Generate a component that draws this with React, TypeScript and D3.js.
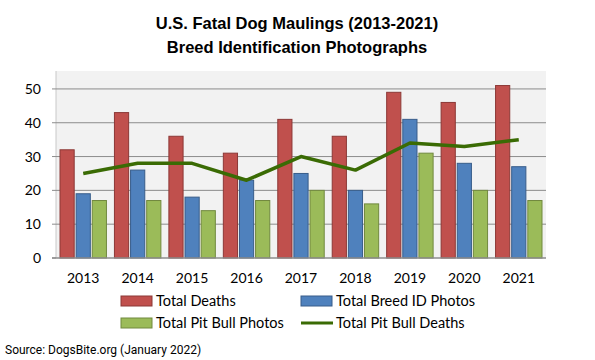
import React from "react";
import * as d3 from "d3";

const years = ["2013", "2014", "2015", "2016", "2017", "2018", "2019", "2020", "2021"];
const totalDeaths = [32, 43, 36, 31, 41, 36, 49, 46, 51];
const breedIdPhotos = [19, 26, 18, 23, 25, 20, 41, 28, 27];
const pitBullPhotos = [17, 17, 14, 17, 20, 16, 31, 20, 17];
const pitBullDeaths = [25, 28, 28, 23, 30, 26, 34, 33, 35];
const yTicks = [0, 10, 20, 30, 40, 50];

const W = 595, H = 360;
const plot = { left: 56, right: 546, top: 71, bottom: 258 };

export default function App() {
  const x = d3.scaleBand<string>().domain(years).range([plot.left, plot.right]).paddingInner(0).paddingOuter(0);
  const y = d3.scaleLinear().domain([0, 55.3]).range([plot.bottom, plot.top]);
  const series = [
    { name: "Total Deaths", values: totalDeaths, fill: "#C0504D", stroke: "#8C3836" },
    { name: "Total Breed ID Photos", values: breedIdPhotos, fill: "#4F81BD", stroke: "#385D8A" },
    { name: "Total Pit Bull Photos", values: pitBullPhotos, fill: "#9BBB59", stroke: "#71893F" },
  ];
  const inner = d3.scaleBand<number>().domain([0, 1, 2]).range([4, x.bandwidth() - 4]).paddingInner(0.12);
  const line = d3.line<number>()
    .x((_, i) => (x(years[i]) as number) + inner(1)! + inner.bandwidth() / 2)
    .y((d) => y(d));
  const font = "Lato, 'Open Sans', sans-serif";
  return (
    <svg width={W} height={H} style={{ position: "absolute", left: 0, top: 0, background: "#fff" }}>
      <text x={297} y={29} textAnchor="middle" fontFamily="'Liberation Sans', Arial, sans-serif" fontWeight="bold" fontSize={16.5}>
        U.S. Fatal Dog Maulings (2013-2021)
      </text>
      <text x={297} y={53} textAnchor="middle" fontFamily="'Liberation Sans', Arial, sans-serif" fontWeight="bold" fontSize={16.5}>
        Breed Identification Photographs
      </text>
      <rect x={plot.left} y={plot.top} width={plot.right - plot.left} height={plot.bottom - plot.top} fill="#F2F2F2" />
      <line x1={plot.left} x2={plot.left} y1={plot.top} y2={plot.bottom} stroke="#C8C8C8" strokeWidth={1} />
      {yTicks.map((t) => (
        <g key={t}>
          {t > 0 && <line x1={plot.left} x2={plot.right} y1={y(t)} y2={y(t)} stroke="#8C8C8C" strokeWidth={1} />}
          <line x1={plot.left - 4} x2={plot.left} y1={y(t)} y2={y(t)} stroke="#8C8C8C" strokeWidth={1} />
          <text x={41} y={y(t) + 5} textAnchor="end" fontFamily={font} fontSize={14}>{t}</text>
        </g>
      ))}
      {series.map((s, si) =>
        s.values.map((v, i) => (
          <rect key={s.name + i}
            x={(x(years[i]) as number) + inner(si)!}
            y={y(v)}
            width={inner.bandwidth()}
            height={plot.bottom - y(v)}
            fill={s.fill} stroke={s.stroke} strokeWidth={1} />
        ))
      )}
      <line x1={plot.left - 4} x2={plot.right} y1={plot.bottom} y2={plot.bottom} stroke="#8C8C8C" strokeWidth={1.5} />
      <path d={line(pitBullDeaths) || ""} fill="none" stroke="#3A6B04" strokeWidth={3.5} strokeLinejoin="round" />
      {years.map((yr) => (
        <text key={yr} x={(x(yr) as number) + x.bandwidth() / 2} y={283} textAnchor="middle" fontFamily={font} fontSize={14}>{yr}</text>
      ))}
      {[
        { label: "Total Deaths", fill: "#C0504D", stroke: "#8C3836", lx: 121, ly: 301, type: "rect" },
        { label: "Total Breed ID Photos", fill: "#4F81BD", stroke: "#385D8A", lx: 301, ly: 301, type: "rect" },
        { label: "Total Pit Bull Photos", fill: "#9BBB59", stroke: "#71893F", lx: 121, ly: 323, type: "rect" },
        { label: "Total Pit Bull Deaths", fill: "#3A6B04", stroke: "#3A6B04", lx: 301, ly: 323, type: "line" },
      ].map((l) => (
        <g key={l.label}>
          {l.type === "rect" ? (
            <rect x={l.lx} y={l.ly - 5} width={31} height={10} fill={l.fill} stroke={l.stroke} strokeWidth={1} />
          ) : (
            <line x1={l.lx} x2={l.lx + 32} y1={l.ly} y2={l.ly} stroke={l.fill} strokeWidth={3} />
          )}
          <text x={l.lx + 35} y={l.ly + 5} fontFamily={font} fontSize={14.5}>{l.label}</text>
        </g>
      ))}
      <text x={5} y={354} fontFamily="Roboto, sans-serif" fontSize={12}>Source: DogsBite.org (January 2022)</text>
    </svg>
  );
}
